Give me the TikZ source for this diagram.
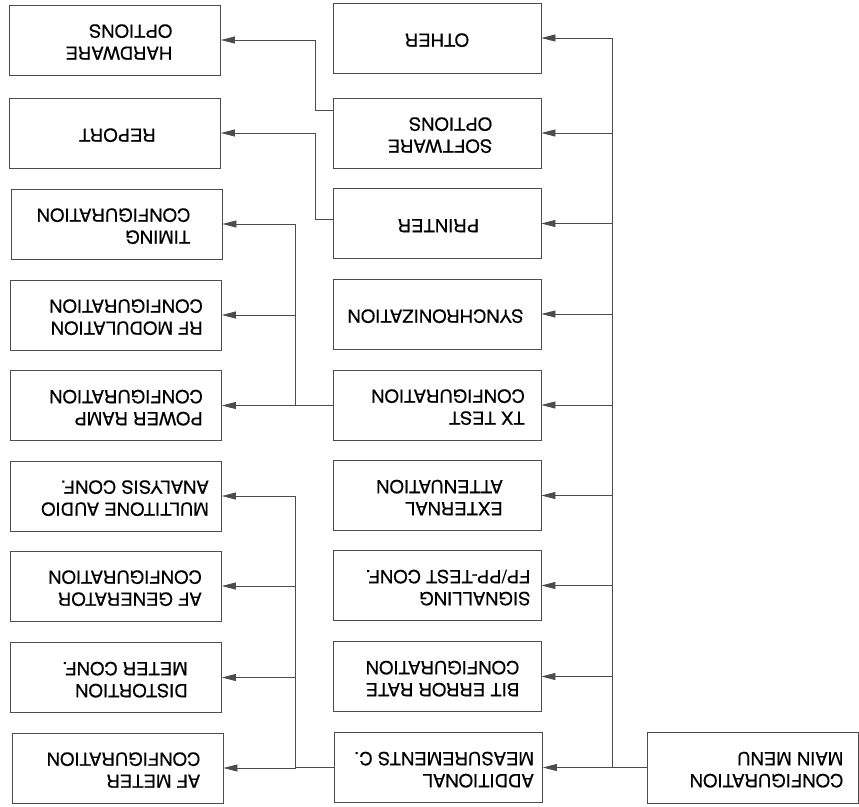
\documentclass[tikz,border=0pt]{standalone}
\usepackage{fontspec}
\setmainfont{TeX Gyre Heros}[FakeStretch=1.03,FakeBold=0.4]
\usepackage{graphicx}
\usetikzlibrary{arrows.meta,calc}
% optional argument: twice the shift of the text to the right (in the picture)
\newcommand{\fliptext}[2][0pt]{\rotatebox[origin=c]{180}{\begin{tabular}{@{}l@{}}#2\end{tabular}\hspace{#1}}}
\tikzset{
  box/.style={draw=black!70, line width=0.8pt, minimum width=211pt, minimum height=70pt,
    inner sep=0pt, font=\fontsize{18}{22}\selectfont, text=black},
  midbox/.style={box, minimum width=208pt},
  conn/.style={draw=black!70, line width=0.8pt},
  arr/.style={conn, -{Triangle[length=14pt,width=7pt]}}
}
\begin{document}
\begin{tikzpicture}[x=1pt,y=-1pt]
\useasboundingbox (0,0) rectangle (859,806);
% left column
\node[box] (hw) at (115,40) {\fliptext[8pt]{HARDWARE\\OPTIONS}};
\node[box] (report) at (115,133) {\fliptext[5pt]{REPORT}};
\node[box] (timing) at (116.5,224) {\fliptext[-6pt]{TIMING\\CONFIGURATION}};
\node[box] (rf) at (116,315) {\fliptext[20pt]{RF MODULATION\\CONFIGURATION}};
\node[box] (pr) at (116,405.5) {\fliptext[20pt]{POWER RAMP\\CONFIGURATION}};
\node[box] (mt) at (116,496) {\fliptext[18pt]{MULTITONE AUDIO\\ANALYSIS CONF.}};
\node[box] (afg) at (116,586) {\fliptext[18pt]{AF GENERATOR\\CONFIGURATION}};
\node[box] (dist) at (116,677.5) {\fliptext[18pt]{DISTORTION\\METER CONF.}};
\node[box] (afm) at (117.5,768) {\fliptext[12pt]{AF METER\\CONFIGURATION}};
% middle column
\node[midbox] (other) at (437,38) {\fliptext{OTHER}};
\node[midbox] (sw) at (437,133) {\fliptext[6pt]{SOFTWARE\\OPTIONS}};
\node[midbox] (printer) at (437,223.5) {\fliptext[3pt]{PRINTER}};
\node[midbox] (sync) at (437,314) {\fliptext[-3pt]{SYNCHRONIZATION}};
\node[midbox] (tx) at (437,405) {\fliptext[22pt]{TX TEST\\CONFIGURATION}};
\node[midbox] (ext) at (437,495.5) {\fliptext[5pt]{EXTERNAL\\ATTENUATION}};
\node[midbox] (sig) at (437,585.5) {\fliptext[22pt]{SIGNALLING\\FP/PP-TEST CONF.}};
\node[midbox] (bit) at (437,676.5) {\fliptext[11pt]{BIT ERROR RATE\\CONFIGURATION}};
\node[midbox] (add) at (438.5,767.5) {\fliptext[11pt]{ADDITIONAL\\MEASUREMENTS C.}};
% main menu
\node[box, minimum height=71pt] (main) at (752.5,767.5) {\fliptext[28pt]{CONFIGURATION\\MAIN MENU}};
% main bus
\coordinate (j1) at (612,767.5);
\draw[arr] (main.west) -- (add.east);
\draw[arr] (j1) |- (other.east);
\draw[arr] (j1) |- (sw.east);
\draw[arr] (j1) |- (printer.east);
\draw[arr] (j1) |- (sync.east);
\draw[arr] (j1) |- (tx.east);
\draw[arr] (j1) |- (ext.east);
\draw[arr] (j1) |- (sig.east);
\draw[arr] (j1) |- (bit.east);
% software -> hardware, printer -> report
\draw[arr] ([yshift=23pt]sw.west) -- ++(-17,0) |- (hw.east);
\draw[arr] ([yshift=4pt]printer.west) -- ++(-17,0) |- (report.east);
% tx test bus
\coordinate (j3) at (295,405);
\draw[conn] (tx.west) -- (j3);
\draw[arr] (j3) |- (timing.east);
\draw[arr] (j3) |- (rf.east);
\draw[arr] (j3) |- (pr.east);
% additional bus
\coordinate (j2) at (295,767.5);
\draw[conn] (add.west) -- (j2);
\draw[arr] (j2) |- (mt.east);
\draw[arr] (j2) |- (afg.east);
\draw[arr] (j2) |- (dist.east);
\draw[arr] (j2) |- (afm.east);
\end{tikzpicture}
\end{document}
